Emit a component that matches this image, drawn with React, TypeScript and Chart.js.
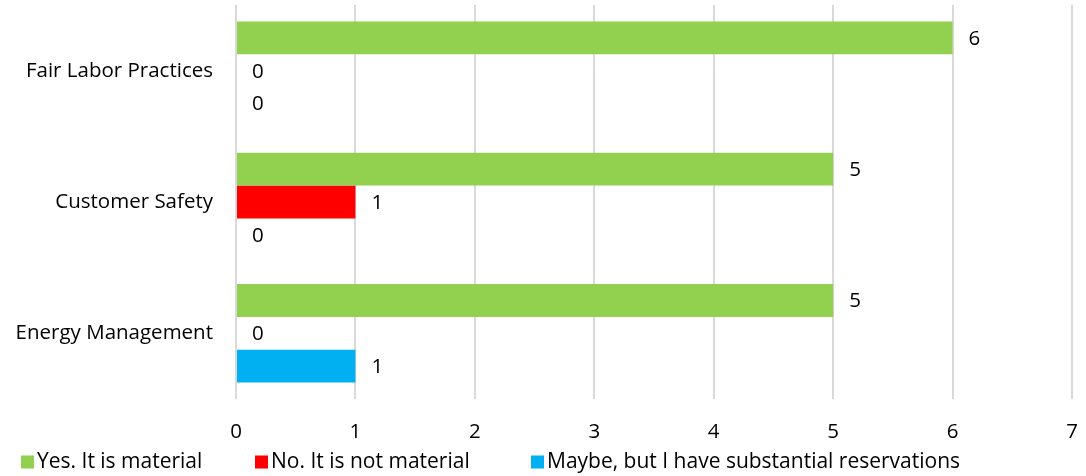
import React, { useEffect, useRef } from "react";
import { Chart, registerables } from "chart.js";

Chart.register(...registerables);

const categories = ["Fair Labor Practices", "Customer Safety", "Energy Management"];
const yesValues = [6, 5, 5];
const noValues = [0, 1, 0];
const maybeValues = [0, 0, 1];
const seriesNames = ["Yes. It is material", "No. It is not material", "Maybe, but I have substantial reservations"];
const seriesColors = ["#92D050", "#FF0000", "#00B0F0"];
const xTicks = [0, 1, 2, 3, 4, 5, 6, 7];

const FONT = "'Open Sans', sans-serif";
const SIZE = 20.5;
const LEGEND_SIZE = 21;
const LEGEND_X = [21, 255, 531];

const valueLabels = {
  id: "valueLabels",
  afterDatasetsDraw(chart: any) {
    const ctx = chart.ctx;
    ctx.save();
    ctx.font = `${SIZE}px ${FONT}`;
    ctx.fillStyle = "#000";
    ctx.textBaseline = "middle";
    ctx.textAlign = "left";
    chart.data.datasets.forEach((ds: any, i: number) => {
      const meta = chart.getDatasetMeta(i);
      meta.data.forEach((bar: any, j: number) => {
        ctx.fillText(String(ds.data[j]), bar.x + 16, bar.y + 1);
      });
    });
    ctx.restore();
  },
};

const bottomLegend = {
  id: "bottomLegend",
  afterDraw(chart: any) {
    const ctx = chart.ctx;
    ctx.save();
    ctx.font = `${LEGEND_SIZE}px ${FONT}`;
    ctx.textBaseline = "middle";
    ctx.textAlign = "left";
    const y = 462;
    chart.data.datasets.forEach((ds: any, i: number) => {
      const x = LEGEND_X[i];
      ctx.fillStyle = ds.backgroundColor;
      ctx.fillRect(x, y - 6.5, 13, 13);
      ctx.fillStyle = "#000";
      ctx.fillText(ds.label, x + 16, y);
    });
    ctx.restore();
  },
};

export default function App() {
  const ref = useRef<HTMLCanvasElement>(null);
  useEffect(() => {
    document.body.style.margin = "0";
    const chart = new Chart(ref.current!, {
      type: "bar",
      data: {
        labels: categories,
        datasets: [
          { label: seriesNames[0], data: yesValues, backgroundColor: seriesColors[0] },
          { label: seriesNames[1], data: noValues, backgroundColor: seriesColors[1] },
          { label: seriesNames[2], data: maybeValues, backgroundColor: seriesColors[2] },
        ],
      },
      options: {
        indexAxis: "y",
        animation: false,
        responsive: false,
        datasets: { bar: { categoryPercentage: 0.75, barPercentage: 1 } },
        layout: { padding: { left: 0, right: 14, top: 5, bottom: 32 } },
        scales: {
          x: {
            min: 0,
            max: 7,
            afterBuildTicks: (axis: any) => {
              axis.ticks = xTicks.map((v) => ({ value: v }));
            },
            afterFit: (axis: any) => {
              axis.height = 45;
              axis.paddingLeft = 0;
              axis.paddingRight = 0;
            },
            grid: { color: "#D9D9D9", lineWidth: 2, drawTicks: false },
            border: { display: false },
            ticks: { font: { family: FONT, size: SIZE }, color: "#000", padding: 21 },
          },
          y: {
            afterFit: (axis: any) => {
              axis.width = 236;
              axis.paddingTop = 0;
              axis.paddingBottom = 0;
            },
            grid: { display: false, drawTicks: false },
            border: { display: false },
            ticks: { font: { family: FONT, size: SIZE }, color: "#000", padding: 23 },
          },
        },
        plugins: {
          legend: { display: false },
          tooltip: { enabled: false },
        },
      },
      plugins: [valueLabels, bottomLegend],
    });
    return () => chart.destroy();
  }, []);
  return <canvas ref={ref} width={1086} height={476} />;
}
